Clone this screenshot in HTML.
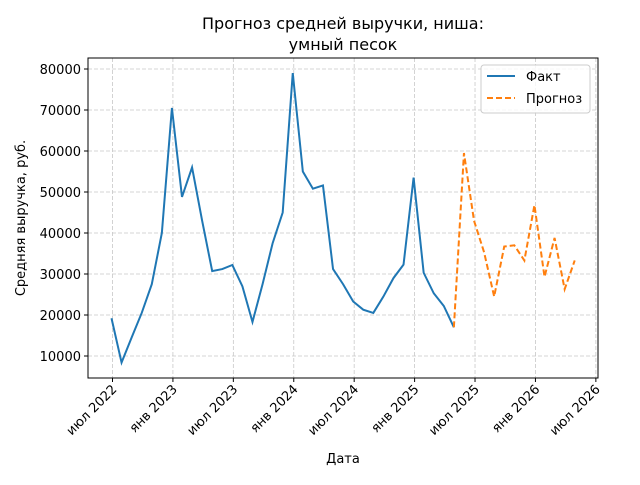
<!DOCTYPE html>
<html><head><meta charset="utf-8"><style>
body{margin:0;background:#fff;}
svg text{font-family:"DejaVu Sans","Liberation Sans",sans-serif;fill:#000;}
</style></head><body>
<svg id="c" width="640" height="480" xmlns="http://www.w3.org/2000/svg">
<rect width="640" height="480" fill="#fff"/>
<text x="343" y="29" font-size="16" text-anchor="middle">Прогноз средней выручки, ниша:</text>
<text x="343" y="50" font-size="16" text-anchor="middle">умный песок</text>
<g id="grid"></g>
<g id="axes"></g>
<g id="series"></g>
<rect x="88" y="58" width="510" height="320" fill="none" stroke="#000" stroke-width="1"/>
<text x="343" y="463" font-size="13" text-anchor="middle">Дата</text>
<text transform="translate(25,218) rotate(-90)" font-size="13" text-anchor="middle">Средняя выручка, руб.</text>
<g>
<rect x="481" y="65" width="109" height="48" rx="3" fill="#fff" fill-opacity="0.8" stroke="#ccc"/>
<line x1="487" y1="76" x2="515" y2="76" stroke="#1f77b4" stroke-width="2"/>
<text x="526" y="81" font-size="13">Факт</text>
<line x1="487" y1="98" x2="515" y2="98" stroke="#ff7f0e" stroke-width="2" stroke-dasharray="6,3"/>
<text x="526" y="103" font-size="13">Прогноз</text>
</g>
</svg>
<script>
const factValues=[19200,8400,14500,20500,27500,40000,70500,48800,56000,43000,30700,31200,32200,27000,18300,27500,37500,45000,79000,55000,50800,51600,31200,27500,23300,21300,20500,24500,29000,32300,53500,30300,25300,22200,17000];
const forecastValues=[17000,59500,43000,35300,24500,36700,37000,33300,46800,29300,38800,26300,33300];
const forecastStart=34;
const yTicks=[10000,20000,30000,40000,50000,60000,70000,80000];
const xTickLabels=["июл 2022","янв 2023","июл 2023","янв 2024","июл 2024","янв 2025","июл 2025","янв 2026","июл 2026"];
const xTickMonths=[0,6,12,18,24,30,36,42,48];
const NS="http://www.w3.org/2000/svg";
function xs(m){return 111.5+m*10.07;}
function ys(v){return 356-(v-10000)*0.0041;}
function mk(t,a,p){const e=document.createElementNS(NS,t);for(const k in a)e.setAttribute(k,a[k]);p.appendChild(e);return e;}
const grid=document.getElementById('grid'),axes=document.getElementById('axes'),ser=document.getElementById('series');
yTicks.forEach(v=>{const y=ys(v);
const g=mk('line',{x1:88,x2:598,y1:y,y2:y,stroke:'#c8c8c8','stroke-dasharray':'4,2','stroke-width':0.8},grid);


mk('line',{x1:84,x2:88,y1:y,y2:y,stroke:'#000'},axes);
const t=mk('text',{x:81,y:y+5,'font-size':13,'text-anchor':'end'},axes);t.textContent=v;

});
xTickMonths.forEach((m,i)=>{const x=xs(m)+1;
const g=mk('line',{x1:x,x2:x,y1:58,y2:378,stroke:'#c8c8c8','stroke-dasharray':'4,2','stroke-width':0.8},grid);


mk('line',{x1:x,x2:x,y1:378,y2:382,stroke:'#000'},axes);
const t=mk('text',{x:0,y:0,'font-size':13,'text-anchor':'end',transform:`translate(${x+5},${390}) rotate(-45)`},axes);t.textContent=xTickLabels[i];

});
const fp=factValues.map((v,i)=>xs(i)+','+ys(v)).join(' ');
const l1=mk('polyline',{points:fp,fill:'none',stroke:'#1f77b4','stroke-width':2},ser);


const pp=forecastValues.map((v,i)=>xs(i+forecastStart)+','+ys(v)).join(' ');
const l2=mk('polyline',{points:pp,fill:'none',stroke:'#ff7f0e','stroke-width':2,'stroke-dasharray':'6,3'},ser);


</script>
</body></html>
